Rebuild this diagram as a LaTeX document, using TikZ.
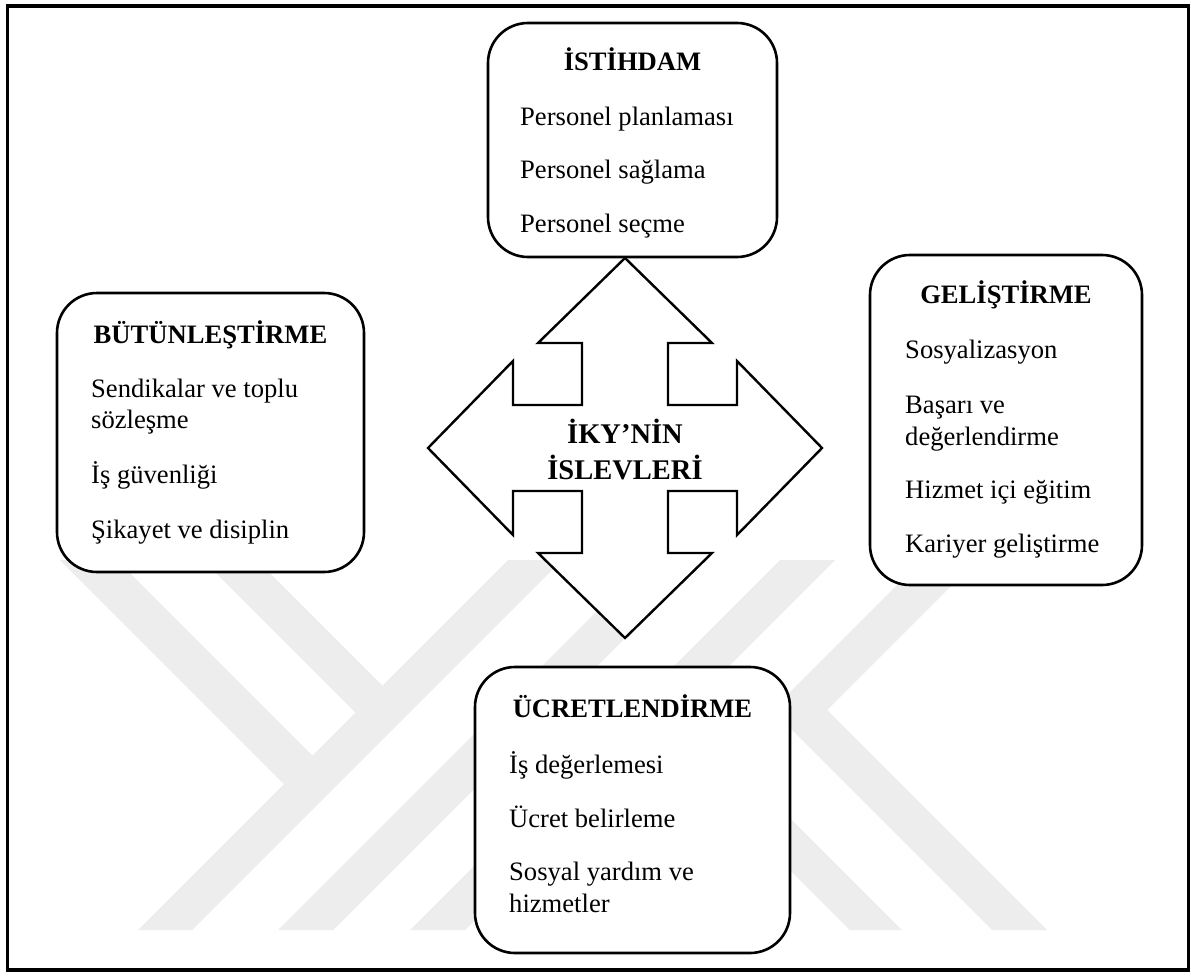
\documentclass[tikz,border=0pt]{standalone}
\usepackage{fontspec}
\setmainfont{Liberation Serif}
\begin{document}
\begin{tikzpicture}[x=1pt,y=-1pt,
  wmark/.style={fill=black!7, draw=none},
  box/.style={draw=black, fill=white, line width=2.6pt, rounded corners=40pt, inner sep=0pt, outer sep=0pt},
  boxtitle/.style={font=\fontsize{26.6}{30}\selectfont\bfseries, anchor=base, inner sep=0pt},
  boxitem/.style={font=\fontsize{26.6}{30}\selectfont, anchor=base west, inner sep=0pt},
  centertext/.style={font=\fontsize{28.5}{34}\selectfont\bfseries, anchor=base, inner sep=0pt},
  arrowshape/.style={draw=black, fill=white, line width=2.4pt, line join=miter}]
\useasboundingbox (0,0) rectangle (1191,977);
% page background and frame
\fill[white] (0,0) rectangle (1191,977);
% watermark
\fill[wmark] (508,560) -- (562,560) -- (192,930) -- (138,930) -- cycle;
\fill[wmark] (60,560) -- (117,560) -- (312.5,755.5) -- (284,784) -- cycle;
\fill[wmark] (203,560) -- (257,560) -- (382.5,685.5) -- (355.5,712.5) -- cycle;
\fill[wmark] (648,560) -- (703,560) -- (333,930) -- (278,930) -- cycle;
\fill[wmark] (780,560) -- (835,560) -- (465,930) -- (410,930) -- cycle;
\fill[wmark] (683.5,711.5) -- (657.5,737.5) -- (850,930) -- (902,930) -- cycle;
\fill[wmark] (922,560) -- (977,560) -- (827,710) -- (1047,930) -- (992,930) -- (772,710) -- cycle;
\draw[line width=3.2pt] (7.5,6) rectangle (1188.5,970);
% central four-way arrow
\begin{scope}[shift={(625,448)}]
\draw[arrowshape] (0,-190) -- (87,-105) -- (43,-105) -- (43,-43) -- (112,-43) -- (112,-87)
  -- (197,0) -- (112,87) -- (112,43) -- (43,43) -- (43,105) -- (87,105)
  -- (0,190) -- (-87,105) -- (-43,105) -- (-43,43) -- (-112,43) -- (-112,87)
  -- (-197,0) -- (-112,-87) -- (-112,-43) -- (-43,-43) -- (-43,-105) -- (-87,-105) -- cycle;
\end{scope}
\node[centertext] (c1) at (625,443) {İKY’NİN};
\node[centertext] (c2) at (625,479) {İSLEVLERİ};
% boxes
\node[box, minimum width=289pt, minimum height=234pt] (ist) at (632.5,140) {};
\node[box, minimum width=307pt, minimum height=279pt] (but) at (210.5,432.5) {};
\node[box, minimum width=272pt, minimum height=330pt] (gel) at (1006,420) {};
\node[box, minimum width=315pt, minimum height=286pt] (ucr) at (632.5,810) {};
% İSTİHDAM
\node[boxtitle] (istT) at (632.5,70) {İSTİHDAM};
\node[boxitem] (ist1) at (520,125) {Personel planlaması};
\node[boxitem] (ist2) at (520,178) {Personel sağlama};
\node[boxitem] (ist3) at (520,232) {Personel seçme};
% BÜTÜNLEŞTİRME
\node[boxtitle] (butT) at (210.5,343) {BÜTÜNLEŞTİRME};
\node[boxitem] (but1) at (91,397) {Sendikalar ve toplu};
\node[boxitem] (but1b) at (91,428) {sözleşme};
\node[boxitem] (but2) at (91,483) {İş güvenliği};
\node[boxitem] (but3) at (91,538) {Şikayet ve disiplin};
% GELİŞTİRME
\node[boxtitle] (gelT) at (1006,303) {GELİŞTİRME};
\node[boxitem] (gel1) at (905,358) {Sosyalizasyon};
\node[boxitem] (gel2) at (905,413) {Başarı ve};
\node[boxitem] (gel2b) at (905,445) {değerlendirme};
\node[boxitem] (gel3) at (905,498) {Hizmet içi eğitim};
\node[boxitem] (gel4) at (905,552) {Kariyer geliştirme};
% ÜCRETLENDİRME
\node[boxtitle] (ucrT) at (632.5,717) {ÜCRETLENDİRME};
\node[boxitem] (ucr1) at (509,773) {İş değerlemesi};
\node[boxitem] (ucr2) at (509,827) {Ücret belirleme};
\node[boxitem] (ucr3) at (509,880) {Sosyal yardım ve};
\node[boxitem] (ucr3b) at (509,912) {hizmetler};
\end{tikzpicture}
\end{document}
